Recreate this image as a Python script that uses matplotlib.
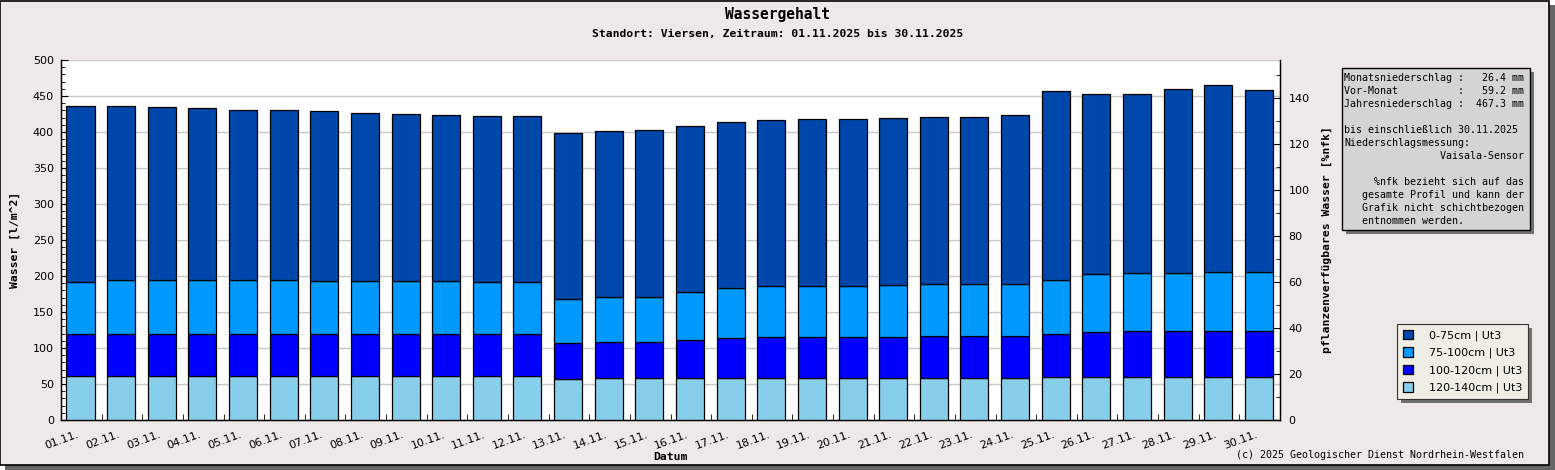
"""plot.py - Wassergehalt Viersen, November 2025"""
import numpy as np
import matplotlib
matplotlib.use("Agg")
import matplotlib.pyplot as plt
from matplotlib.patches import Rectangle
from matplotlib.ticker import MultipleLocator

# --- data (l/m^2 per layer) ---
days = [f"{d:02d}.11." for d in range(1, 31)]
layer_0_75 = [244.0, 242.0, 240.6, 239.2, 236.4, 236.4, 236.0, 233.4, 232.0, 230.6,
              231.2, 231.0, 231.0, 231.0, 232.4, 230.9, 231.0, 231.0, 232.3, 232.3,
              232.4, 232.3, 232.3, 235.5, 262.5, 250.1, 248.7, 255.6, 259.9, 252.9]
layer_75_100 = [72.5, 74.5, 74.5, 74.5, 74.5, 74.5, 73.5, 73.5, 73.5, 73.5,
                71.5, 71.5, 60.2, 62.1, 61.6, 65.9, 69.0, 70.0, 70.0, 70.0,
                71.4, 71.4, 71.4, 71.9, 74.1, 79.7, 79.7, 79.7, 81.1, 81.1]
layer_100_120 = [59.0, 59.0, 59.0, 59.0, 59.0, 59.0, 59.0, 59.0, 59.0, 59.0,
                 59.0, 59.0, 50.4, 50.0, 50.5, 53.2, 55.6, 57.4, 57.4, 57.4,
                 57.4, 58.8, 58.8, 58.3, 60.2, 62.9, 64.3, 64.3, 64.3, 64.3]
layer_120_140 = [60.5, 60.5, 60.5, 60.5, 60.5, 60.5, 60.5, 60.5, 60.5, 60.5,
                 60.5, 60.5, 57.0, 58.3, 58.3, 58.3, 58.3, 58.3, 58.3, 58.3,
                 58.3, 58.3, 58.3, 58.3, 59.7, 59.7, 59.7, 59.7, 59.7, 59.7]
labels = ["0-75cm | Ut3", "75-100cm | Ut3", "100-120cm | Ut3", "120-140cm | Ut3"]
colors = ["#0047AB", "#0099FF", "#0000FF", "#87CEEB"]

info_lines = [
    "Monatsniederschlag :   26.4 mm",
    "Vor-Monat          :   59.2 mm",
    "Jahresniederschlag :  467.3 mm",
    "",
    "bis einschließlich 30.11.2025",
    "Niederschlagsmessung:",
    "                Vaisala-Sensor",
    "",
    "     %nfk bezieht sich auf das",
    "   gesamte Profil und kann der",
    "   Grafik nicht schichtbezogen",
    "   entnommen werden.",
]

W, H = 1555, 470
BG = "#ECE9E8"
MONO = "DejaVu Sans Mono"


def fx(px): return px / W
def fy(py): return 1 - py / H


fig = plt.figure(figsize=(W / 100, H / 100), dpi=100, facecolor="white")
# frame + shadow of the whole picture
fig.patches.append(Rectangle((fx(5), 0), fx(1550), 465 / H, transform=fig.transFigure,
                             facecolor="#666666", edgecolor="none", zorder=-20))
fig.patches.append(Rectangle((0, 5 / H), fx(1549), 464 / H, transform=fig.transFigure,
                             facecolor=BG, edgecolor="black", lw=1.2, zorder=-10))

ax = fig.add_axes([fx(61), fy(420), fx(1280 - 61), 360 / H])
ax.set_facecolor("white")
ax.set_axisbelow(True)

x = np.arange(len(days)) + 0.48
stack = [layer_120_140, layer_100_120, layer_75_100, layer_0_75]
stack_col = colors[::-1]
stack_lab = labels[::-1]
bottom = np.zeros(len(days))
handles = {}
for vals, col, lab in zip(stack, stack_col, stack_lab):
    h = ax.bar(x, vals, width=0.69, bottom=bottom, color=col, edgecolor="black",
               linewidth=0.9, label=lab, zorder=3)
    handles[lab] = h
    bottom += np.array(vals)

ax.set_xlim(0, 30)
ax.set_ylim(0, 500)
ax.yaxis.set_major_locator(MultipleLocator(50))
ax.yaxis.set_minor_locator(MultipleLocator(10))
ax.grid(axis="y", which="major", color="#C8C8C8", lw=1)
ax.tick_params(axis="y", which="major", direction="in", length=5, labelsize=8, pad=5)
ax.tick_params(axis="y", which="minor", direction="in", length=3)
ax.set_xticks(x)
ax.set_xticklabels(days, rotation=20, ha="right", rotation_mode="default")
ax.set_xticks(np.arange(1, 30), minor=True)
ax.tick_params(axis="x", which="major", length=0, labelsize=8, pad=7)
ax.tick_params(axis="x", which="minor", direction="in", length=4)
ax.spines["top"].set_visible(False)
for s in ("left", "right", "bottom"):
    ax.spines[s].set_linewidth(1)

ax2 = ax.twinx()
ax2.set_ylim(0, 156.5)
ax2.yaxis.set_major_locator(MultipleLocator(20))
ax2.yaxis.set_minor_locator(MultipleLocator(10))
ax2.tick_params(axis="y", which="major", direction="in", length=5, labelsize=8, pad=6)
ax2.tick_params(axis="y", which="minor", direction="in", length=3)
ax2.spines["top"].set_visible(False)

# titles and axis labels
fig.text(0.5, fy(14), "Wassergehalt", ha="center", va="center", family=MONO,
         fontweight="bold", fontsize=10.5)
fig.text(0.5, fy(34), "Standort: Viersen, Zeitraum: 01.11.2025 bis 30.11.2025",
         ha="center", va="center", family=MONO, fontweight="bold", fontsize=8.2)
fig.text(fx(15), fy(240), "Wasser [l/m^2]", rotation=90, ha="center", va="center",
         family=MONO, fontweight="bold", fontsize=8.2)
fig.text(fx(1327), fy(240), "pflanzenverfügbares Wasser [%nfk]", rotation=90,
         ha="center", va="center", family=MONO, fontweight="bold", fontsize=8.2)
fig.text(fx(670), fy(457), "Datum", ha="center", va="center", family=MONO,
         fontweight="bold", fontsize=8.2)
fig.text(fx(1524), fy(455), "(c) 2025 Geologischer Dienst Nordrhein-Westfalen",
         ha="right", va="center", family=MONO, fontsize=7.2)

# info box
bx0, by0, bx1, by1 = 1342, 68, 1530, 230
fig.patches.append(Rectangle((fx(bx0 + 4), fy(by1 + 4)), fx(bx1 - bx0), (by1 - by0) / H,
                             transform=fig.transFigure, facecolor="#707070",
                             edgecolor="none", zorder=1))
fig.patches.append(Rectangle((fx(bx0), fy(by1)), fx(bx1 - bx0), (by1 - by0) / H,
                             transform=fig.transFigure, facecolor="#D4D4D4",
                             edgecolor="black", lw=1, zorder=2))
fig.text(fx(bx0 + 2), fy(by0 + 5), "\n".join(info_lines), ha="left", va="top",
         family=MONO, fontsize=7.2, linespacing=1.38, zorder=3)

# legend
leg = fig.legend([handles[l] for l in labels], labels, loc="upper left",
                 bbox_to_anchor=(fx(1397), fy(324)), borderaxespad=0, frameon=True,
                 fancybox=False, edgecolor="#333333", facecolor="#EEEEE4", framealpha=1,
                 fontsize=8, handlelength=0.9, handleheight=0.9, handletextpad=1.4,
                 labelspacing=0.58, borderpad=0.55)
leg.get_frame().set_linewidth(0.8)
fig.canvas.draw()
bb = leg.get_window_extent().transformed(fig.transFigure.inverted())
fig.patches.append(Rectangle((bb.x0 + fx(4), bb.y0 - 4 / H), bb.width, bb.height,
                             transform=fig.transFigure, facecolor="#707070",
                             edgecolor="none", zorder=1))

fig.savefig("out.png", dpi=100, facecolor=fig.get_facecolor())
